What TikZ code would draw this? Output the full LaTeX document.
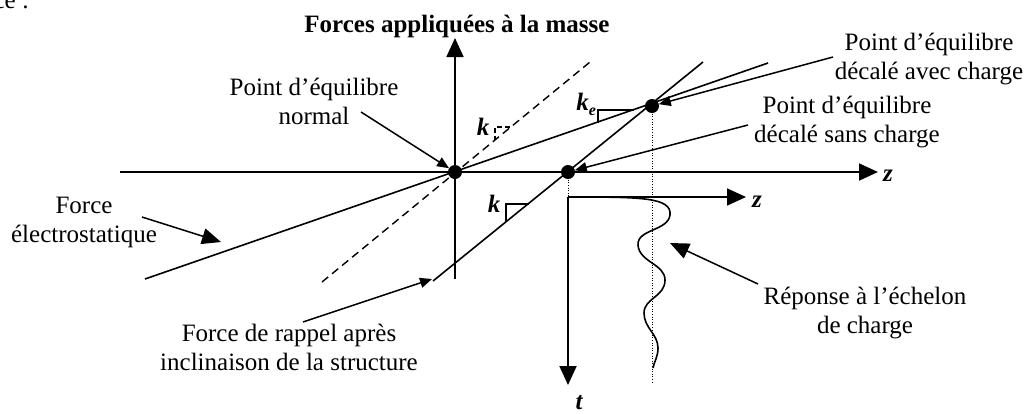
\documentclass[tikz,border=0pt]{standalone}
\usepackage{fontspec}
\setmainfont{Liberation Serif}
\usetikzlibrary{arrows.meta}
\begin{document}
\begin{tikzpicture}[x=1pt,y=-1pt,
  every node/.style={font=\fontsize{25}{29}\selectfont, inner sep=0pt, outer sep=0pt},
  lbl/.style={align=center, anchor=base},
  mathlbl/.style={font=\fontsize{25}{29}\selectfont\bfseries\itshape},
  plainaxis/.style={line width=1.8pt},
  line/.style={line width=1.6pt},
  dashline/.style={line width=1.4pt, dash pattern=on 8pt off 5pt},
  dotline/.style={line width=1pt, dash pattern=on 1pt off 1.6pt},
  tri/.style={line width=1.2pt},
  ptr/.style={line width=1.5pt, -{Triangle[length=12pt,width=10pt]}},
  bigptr/.style={line width=1.5pt, -{Triangle[length=19pt,width=16pt]}},
  dot/.style={circle, fill=black, minimum size=14pt, inner sep=0pt}]
\useasboundingbox (0,0) rectangle (1027,413);

% cut-off fragment of surrounding text
\node[anchor=base east] (frag) at (29,8) {ce :};

% title
\node[anchor=base, font=\fontsize{25}{29}\selectfont\bfseries] (title) at (457,32) {Forces appliquées à la masse};

% main axes
\coordinate (zL) at (120,172);
\coordinate (zR) at (878,172);
\coordinate (fB) at (455,279);
\coordinate (fT) at (455,38);
\draw[plainaxis,-{Triangle[length=19pt,width=17pt]}] (zL) -- (zR);
\draw[plainaxis,-{Triangle[length=19pt,width=17pt]}] (fB) -- (fT);
\node[mathlbl, anchor=base west] (zlab) at (883,181) {z};

% force lines
\coordinate (eA) at (145,279);
\coordinate (eB) at (768,63);
\coordinate (rA) at (433,281);
\coordinate (rB) at (703,62);
\coordinate (kA) at (322,282);
\coordinate (kB) at (590,62);
\draw[line] (eA) -- (eB);
\draw[line] (rA) -- (rB);
\draw[dashline] (kA) -- (kB);

% slope triangles
\coordinate (t1) at (495,127);
\draw[tri, dash pattern=on 5pt off 3pt] (510,127) -- (t1) -- (495,139.5);
\node[mathlbl, anchor=base] (k1) at (483,135) {k};
\coordinate (t2) at (598,110);
\draw[tri] (634,110) -- (t2) -- (598,122.5);
\node[mathlbl, anchor=base east] (ke) at (596,110) {k\raisebox{-0.22em}{\fontsize{16}{16}\selectfont e}};
\coordinate (t3) at (506,204);
\draw[tri] (528.5,204) -- (t3) -- (506,222.3);
\node[mathlbl, anchor=base] (k2) at (494,212) {k};

% equilibrium points
\node[dot] (O) at (455,172) {};
\node[dot] (D2) at (568,172) {};
\node[dot] (D3) at (652,106) {};

% step response axes
\coordinate (C) at (568,197);
\coordinate (z2) at (746,197);
\coordinate (tB) at (568,385);
\coordinate (d3B) at (652,383);
\draw[dotline] (D2.center) -- (C);
\draw[dotline] (D3.center) -- (d3B);
\draw[plainaxis,-{Triangle[length=19pt,width=17pt]}] (C) -- (z2);
\draw[plainaxis,-{Triangle[length=19pt,width=17pt]}] (C) -- (tB);
\node[mathlbl, anchor=base west] (zlab2) at (752,207) {z};
\node[mathlbl, anchor=base] (tlab) at (579,409) {t};

% step response curve
\draw[line] (C) .. controls (640,197) and (672,197) .. (670,215)
  .. controls (668,231) and (637,229) .. (638,245)
  .. controls (639,262) and (665,264) .. (665,280)
  .. controls (665,297) and (644,298) .. (644,313)
  .. controls (644,328) and (658,334) .. (658,348)
  .. controls (658,357) and (654,362) .. (653,368);

% labels (anchor base = baseline of the last line)
\node[lbl] (lN) at (314,124) {Point d’équilibre\\normal};
\node[lbl] (lA) at (929,79) {Point d’équilibre\\décalé avec charge};
\node[lbl] (lS) at (847,142) {Point d’équilibre\\décalé sans charge};
\node[lbl] (lE) at (84,242) {Force\\électrostatique};
\node[lbl] (lR) at (289,370) {Force de rappel après\\inclinaison de la structure};
\node[lbl] (lQ) at (865,333) {Réponse à l’échelon\\de charge};

% pointers
\coordinate (pN) at (361,112);
\coordinate (pA) at (833,57);
\coordinate (pS) at (748,125);
\coordinate (pE) at (142,217);
\coordinate (eTip) at (221,242);
\coordinate (pR) at (303,322);
\coordinate (rTip) at (432,279);
\coordinate (pQ) at (758,284);
\coordinate (qTip) at (670,243);
\draw[ptr] (pN) -- (O);
\draw[ptr] (pA) -- (D3);
\draw[ptr] (pS) -- (D2);
\draw[bigptr] (pE) -- (eTip);
\draw[ptr] (pR) -- (rTip);
\draw[bigptr] (pQ) -- (qTip);
\end{tikzpicture}
\end{document}
